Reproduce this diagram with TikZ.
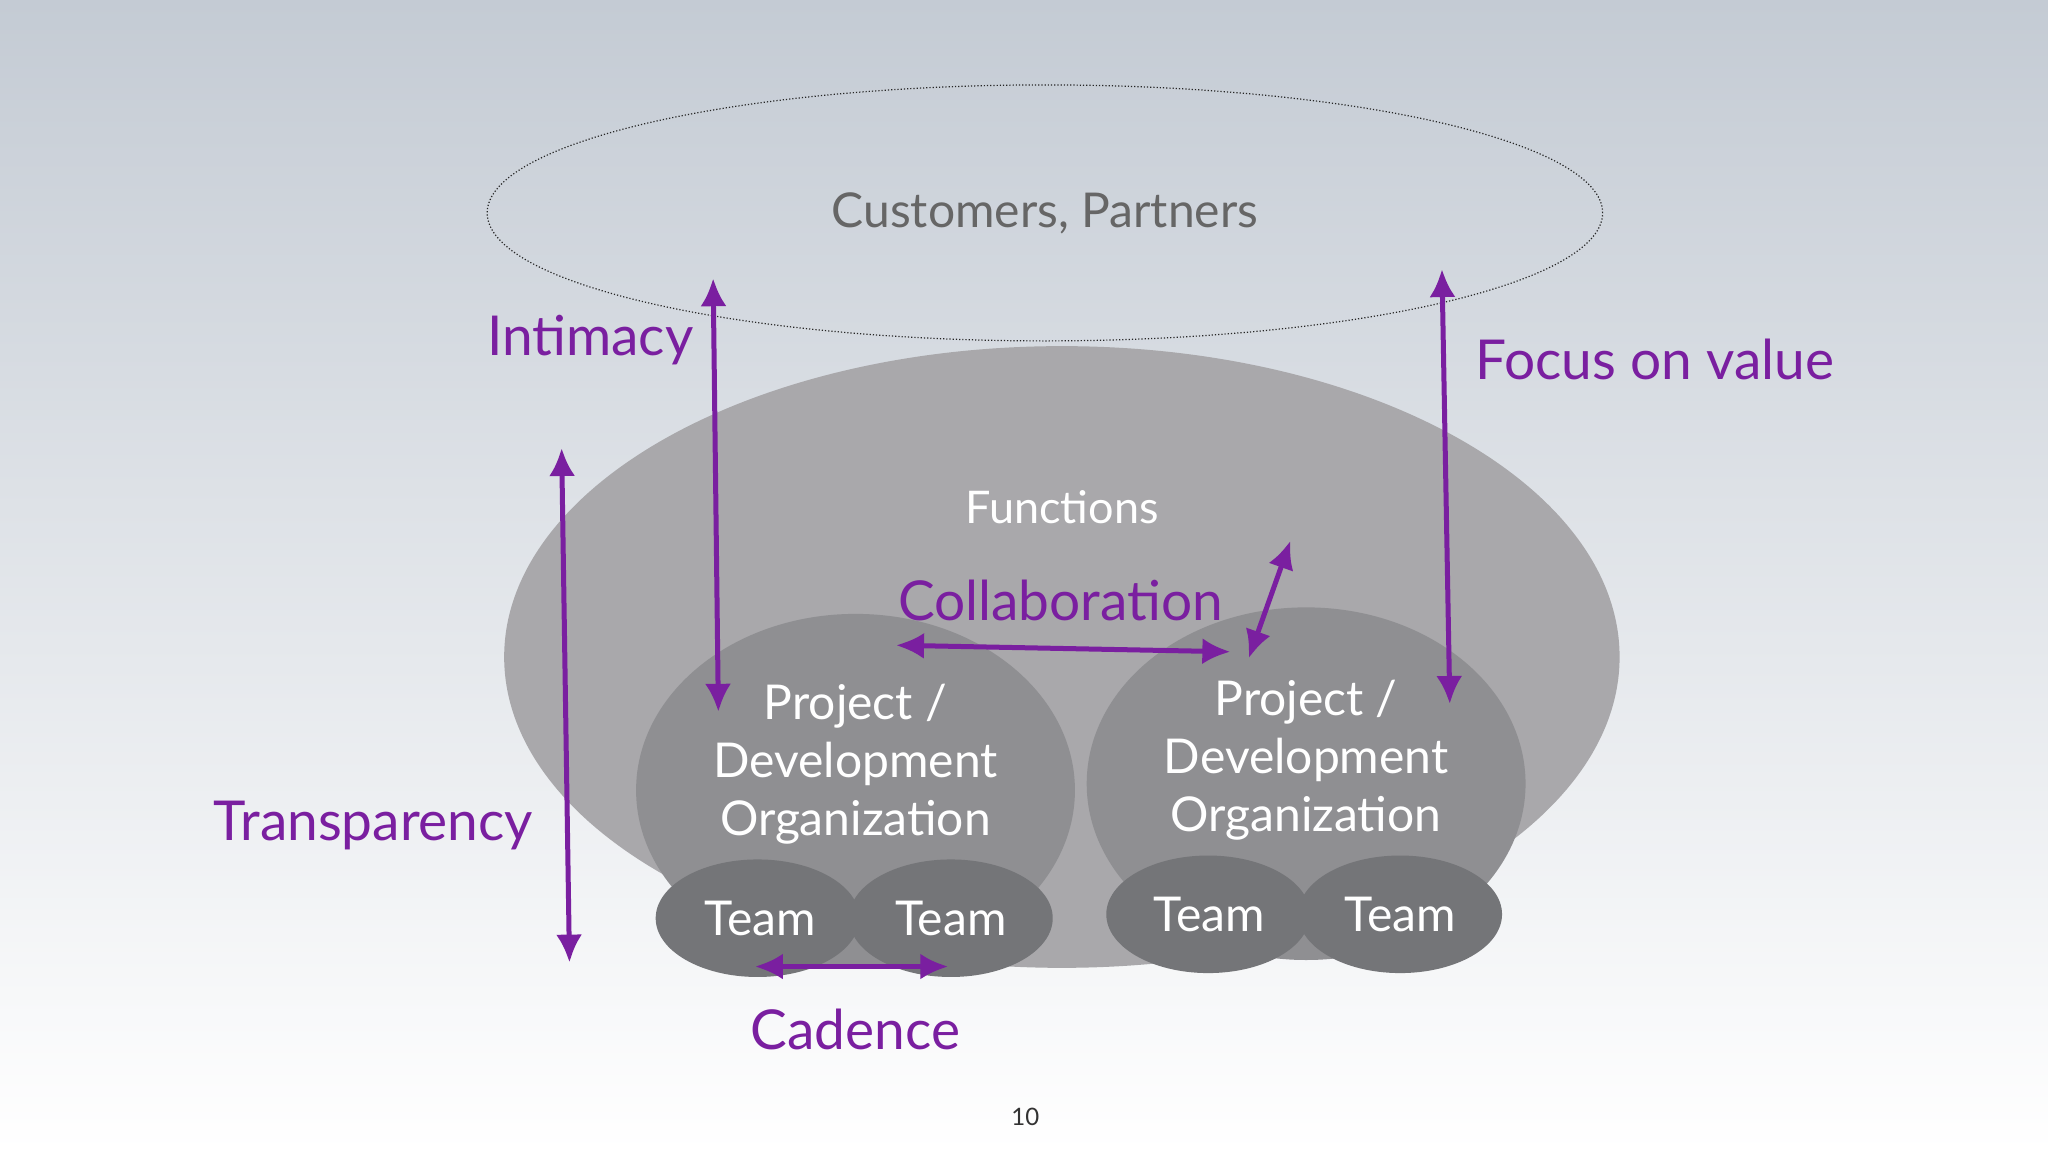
\documentclass[tikz,border=0pt]{standalone}
\usepackage{fontspec}
\setmainfont{Lato}
\usetikzlibrary{arrows.meta,shapes.geometric}
\definecolor{purp}{HTML}{7A1FA0}
\definecolor{bigg}{HTML}{A9A8AB}
\definecolor{orgg}{HTML}{8F8F92}
\definecolor{teamg}{HTML}{747578}
\definecolor{bgtop}{HTML}{C4CBD4}
\definecolor{bgmid}{HTML}{DEE2E7}
\tikzset{
 lbl/.style={text=purp,font=\fontsize{55}{60}\selectfont},
 wt/.style={text=white,align=center,font=\fontsize{48}{58}\selectfont},
 arr/.style={draw=purp,line width=5pt,{Latex[length=28pt,width=26pt]}-{Latex[length=28pt,width=26pt]}},
}
\begin{document}
\begin{tikzpicture}[x=1.306pt,y=-1.306pt]
\shade[top color=bgtop,middle color=bgmid,bottom color=white] (0,0) rectangle (1568,882);
\useasboundingbox (0,0) rectangle (1568,882);
\node[draw=black!85,dotted,line width=1.2pt,ellipse,minimum width=854*1.306pt,minimum height=196*1.306pt] (cust) at (800,163) {};
\fill[bigg] (813,503) ellipse [x radius=427,y radius=238];
\fill[orgg] (655,605) ellipse [x radius=168,y radius=135];
\fill[orgg] (1000,600) ellipse [x radius=168,y radius=135];
\fill[teamg] (580,703) ellipse [x radius=78,y radius=45];
\fill[teamg] (728,703) ellipse [x radius=78,y radius=45];
\fill[teamg] (925,700) ellipse [x radius=78,y radius=45];
\fill[teamg] (1072,700) ellipse [x radius=78,y radius=45];
\node[text=black!60,font=\fontsize{48}{60}\selectfont] (ct) at (800,163) {Customers, Partners};
\node[wt,font=\fontsize{45}{60}\selectfont] (fn) at (813,388) {Functions};
\node[wt] (p1) at (655,585) {Project /\\Development\\Organization};
\node[wt] (p2) at (1000,582) {Project /\\Development\\Organization};
\node[wt] (t1) at (582,703) {Team};
\node[wt] (t2) at (728,703) {Team};
\node[wt] (t3) at (926,700) {Team};
\node[wt] (t4) at (1072,700) {Team};
\node[lbl] (col) at (812,460) {Collaboration};
\node[lbl] (int) at (452,260) {Intimacy};
\node[lbl] (foc) at (1267,275) {Focus on value};
\node[lbl] (tra) at (286,632) {Transparency};
\node[lbl] (cad) at (655,788) {Cadence};
\node[text=black!80,font=\fontsize{24}{26}\selectfont] (pg) at (785,855) {10};
\coordinate (a1) at (546,213); \coordinate (a2) at (550,545);
\coordinate (b1) at (1104,206); \coordinate (b2) at (1110,539);
\coordinate (c1) at (430,343); \coordinate (c2) at (436,737);
\coordinate (d1) at (686,494); \coordinate (d2) at (942,499);
\coordinate (e1) at (988,414); \coordinate (e2) at (956,504);
\coordinate (f1) at (578,740); \coordinate (f2) at (726,740);
\draw[arr] (a1) -- (a2);
\draw[arr] (b1) -- (b2);
\draw[arr] (c1) -- (c2);
\draw[arr] (d1) -- (d2);
\draw[arr] (e1) -- (e2);
\draw[arr] (f1) -- (f2);
\end{tikzpicture}
\end{document}
